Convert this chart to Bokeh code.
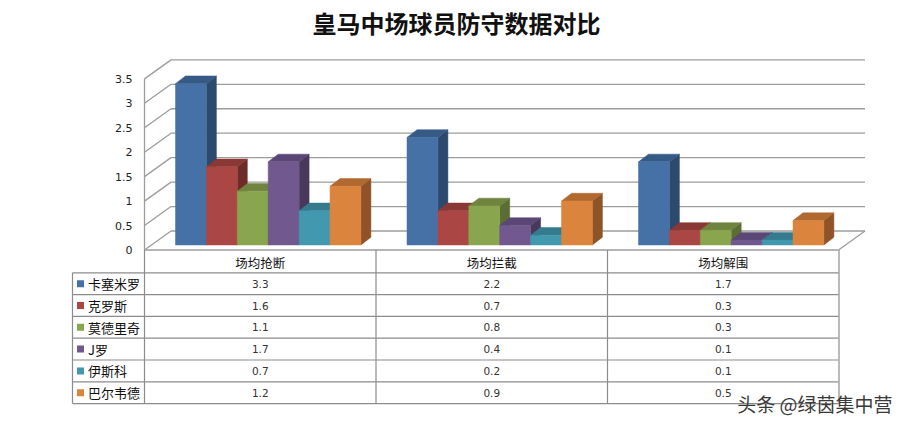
from bokeh.plotting import figure
from bokeh.models import Range1d
from bokeh.core.properties import value
from bokeh.embed import file_html
from bokeh.resources import INLINE

# ---------------- data ----------------
title_text = "皇马中场球员防守数据对比"
categories = ["场均抢断", "场均拦截", "场均解围"]
players = ["卡塞米罗", "克罗斯", "莫德里奇", "J罗", "伊斯科", "巴尔韦德"]
casemiro = [3.3, 2.2, 1.7]
kroos = [1.6, 0.7, 0.3]
modric = [1.1, 0.8, 0.3]
james = [1.7, 0.4, 0.1]
isco = [0.7, 0.2, 0.1]
valverde = [1.2, 0.9, 0.5]
series = [casemiro, kroos, modric, james, isco, valverde]
y_ticks = [0, 0.5, 1, 1.5, 2, 2.5, 3, 3.5]
tick_labels = ["0", "0.5", "1", "1.5", "2", "2.5", "3", "3.5"]
watermark = "头条 @绿茵集中营"

# ---------------- styles ----------------
front_colors = ["#4571A6", "#AA4643", "#89A54E", "#71588F", "#4198AF", "#DB843D"]
side_colors = ["#2C4A6E", "#6E2B29", "#5A6D33", "#48385C", "#2A6373", "#8F5327"]
top_colors = ["#365A86", "#8A3835", "#6E843F", "#5B4775", "#357A8D", "#B0692F"]
grid_color = "#9c9c9c"
table_color = "#8c8c8c"

W, H = 894, 416
K = 48.9  # pixels per value unit


def X(px):  # picture px -> figure x
    return px


def Y(py):  # picture px -> value units
    return (249.5 - py) / K


p = figure(width=W, height=H, output_backend="svg", toolbar_location=None,
           x_range=Range1d(0, W), y_range=Range1d(Y(H), Y(0)),
           min_border=0, x_axis_location=None, y_axis_location=None,
           background_fill_color="white", border_fill_color="white")
p.outline_line_color = None
p.xgrid.visible = False
p.ygrid.visible = False

# ---------------- 3D room ----------------
ROOM_DX = 26.5
ROOM_DY = 19 / K
left_x = X(144)
right_x = X(838)
gx0, gx1 = [], []
gy0, gy1 = [], []
for t in y_ticks:
    # side wall slant
    gx0.append(left_x); gy0.append(t)
    gx1.append(left_x + ROOM_DX); gy1.append(t + ROOM_DY)
    # back wall
    gx0.append(left_x + ROOM_DX); gy0.append(t + ROOM_DY)
    gx1.append(right_x + ROOM_DX); gy1.append(t + ROOM_DY)
# floor front edge, right edge, left vertical
gx0 += [left_x, right_x, left_x]
gy0 += [0, 0, 0]
gx1 += [right_x, right_x + ROOM_DX, left_x]
gy1 += [0, ROOM_DY, y_ticks[-1]]
p.segment(x0=gx0, y0=gy0, x1=gx1, y1=gy1, line_color=grid_color, line_width=1.3)

# tick labels
p.text(x=[X(132)] * len(y_ticks), y=y_ticks, text=tick_labels,
       text_align="right", text_baseline="middle",
       text_font=value("DejaVu Sans"), text_font_size="11px", text_color="#222222")

# ---------------- bars ----------------
COL_W = 231.5
BW = 30.9
BAR_DX = 10
BAR_DY = 7.7 / K
b0 = Y(244.5)
xs, ys, fills = [], [], []
for j in range(len(categories)):
    col_left = X(144) + j * COL_W
    for i, s in enumerate(series):
        v = s[j]
        xl = col_left + 31 + i * BW
        xr = xl + BW
        t = b0 + v
        # side
        xs.append([xr, xr + BAR_DX, xr + BAR_DX, xr])
        ys.append([b0, b0 + BAR_DY, t + BAR_DY, t])
        fills.append(side_colors[i])
        # top
        xs.append([xl, xl + BAR_DX, xr + BAR_DX, xr])
        ys.append([t, t + BAR_DY, t + BAR_DY, t])
        fills.append(top_colors[i])
        # front
        xs.append([xl, xr, xr, xl])
        ys.append([b0, b0, t, t])
        fills.append(front_colors[i])
p.patches(xs=xs, ys=ys, fill_color=fills, line_color=fills, line_width=0.5)

# ---------------- data table ----------------
row_tops = [272.3, 294.1, 315.9, 337.7, 359.5, 381.3, 403.1]
tx0, ty0, tx1, ty1 = [], [], [], []
# header row verticals (start at floor)
for j in range(len(categories) + 1):
    x = X(144) + j * COL_W
    tx0.append(x); ty0.append(0)
    tx1.append(x); ty1.append(Y(row_tops[-1]))
# left outer border of legend column
tx0.append(X(72)); ty0.append(Y(row_tops[0]))
tx1.append(X(72)); ty1.append(Y(row_tops[-1]))
# horizontal row lines
for r in row_tops:
    tx0.append(X(72)); ty0.append(Y(r))
    tx1.append(right_x); ty1.append(Y(r))
p.segment(x0=tx0, y0=ty0, x1=tx1, y1=ty1, line_color=table_color, line_width=1.2)

# header labels
p.text(x=[X(144) + (j + 0.5) * COL_W for j in range(len(categories))],
       y=[Y(262)] * len(categories), text=categories,
       text_align="center", text_baseline="middle",
       text_font=value("Noto Sans CJK SC"), text_font_size="12.5px", text_color="#111111")

row_centers = [(row_tops[k] + row_tops[k + 1]) / 2 for k in range(len(players))]
# legend swatches
p.rect(x=[X(80)] * len(players), y=[Y(c) for c in row_centers],
       width=7, height=7 / K, fill_color=front_colors, line_color=None)
# player names
p.text(x=[X(87.5)] * len(players), y=[Y(c) for c in row_centers], text=players,
       text_align="left", text_baseline="middle",
       text_font=value("Noto Sans CJK SC"), text_font_size="13px", text_color="#111111")
# values
vx, vy, vt = [], [], []
for i, s in enumerate(series):
    for j, v in enumerate(s):
        vx.append(X(144) + (j + 0.5) * COL_W)
        vy.append(Y(row_centers[i]))
        vt.append(str(v))
p.text(x=vx, y=vy, text=vt, text_align="center", text_baseline="middle",
       text_font=value("DejaVu Sans"), text_font_size="10.5px", text_color="#333333")

# ---------------- title & watermark ----------------
p.text(x=[X(456)], y=[Y(22)], text=[title_text], text_align="center",
       text_baseline="middle", text_font=value("Noto Sans CJK SC"),
       text_font_size="24px", text_font_style="bold", text_color="#111111")
p.text(x=[X(892)], y=[Y(403)], text=[watermark], text_align="right",
       text_baseline="middle", text_font=value("Noto Sans CJK SC"),
       text_font_size="19px", text_color="#3a3a3a")

open("out.html", "w").write(file_html(p, INLINE))
